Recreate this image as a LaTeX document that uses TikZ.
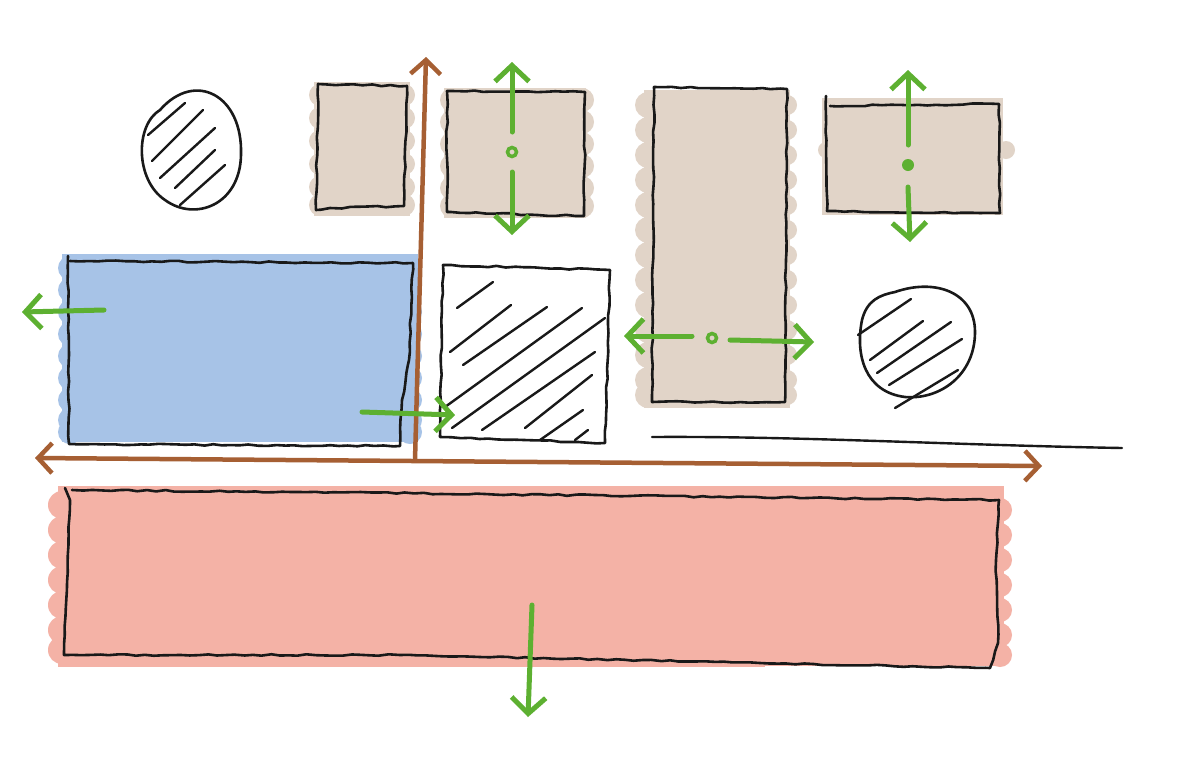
\documentclass[tikz,border=0pt]{standalone}
\usetikzlibrary{arrows.meta,decorations.pathmorphing}
\definecolor{tan}{HTML}{E1D4C8}
\definecolor{bluef}{HTML}{A7C3E7}
\definecolor{pinkf}{HTML}{F4B2A6}
\definecolor{brownl}{HTML}{A65F33}
\definecolor{greenl}{HTML}{5DB031}
\tikzset{
  edge/.style={draw=black!90, line width=2.6pt, line join=round, line cap=round,
    decorate, decoration={random steps, segment length=9pt, amplitude=0.8pt}},
  hatch/.style={black!90, line width=2.4pt, line cap=round},
  axis/.style={brownl, line width=4.5pt, line cap=round, -{Straight Barb[length=14pt,width=30pt,line width=4.5pt]}},
  axis2/.style={brownl, line width=4.5pt, line cap=round, {Straight Barb[length=14pt,width=30pt,line width=4.5pt]}-{Straight Barb[length=14pt,width=30pt,line width=4.5pt]}},
  move/.style={greenl, line width=5pt, line cap=round, -{Straight Barb[length=16pt,width=34pt,line width=5pt]}},
  pivot/.style={greenl, line width=3.5pt},
}
\begin{document}
\begin{tikzpicture}[x=1pt,y=-1pt]
\useasboundingbox (0,0) rectangle (1188,777);
\fill[white] (0,0) rectangle (1188,777);

% ---------- fills ----------
% tan 1
\fill[tan] (314,82) rectangle (410,216);
\foreach \y in {95,118,141,164,187,205} {\fill[tan] (320,\y) circle (11); \fill[tan] (404,\y) circle (11);}
% tan 2
\fill[tan] (444,88) rectangle (586,218);
\foreach \y in {100,122,144,166,188,206} {\fill[tan] (452,\y) circle (12); \fill[tan] (582,\y) circle (12);}
% tan 3
\fill[tan] (644,90) rectangle (790,408);
\foreach \y in {105,130,155,180,205,230,255,280,305,330,355,380,395} {\fill[tan] (648,\y) circle (13); \fill[tan] (787,\y) circle (10);}
% tan 4
\fill[tan] (822,98) rectangle (1003,215);
\fill[tan] (1000,142) rectangle (1008,158);
\fill[tan] (1006,150) circle (9);
\fill[tan] (826,150) circle (8);
% blue
\fill[bluef] (62,254) rectangle (418,442);
\foreach \y in {268,290,312,334,356,378,400,420,432} {\fill[bluef] (70,\y) circle (12); \fill[bluef] (410,\y) circle (12);}
% pink
\fill[pinkf] (58,486) rectangle (1004,666);
\fill[pinkf] (58,655) rectangle (765,667);
\foreach \y in {505,530,555,580,605,630,650} {\fill[pinkf] (62,\y) circle (14);}
\foreach \y in {510,535,560,585,610,635,655} {\fill[pinkf] (1000,\y) circle (12);}

% ---------- outlines ----------
\draw[edge] (318,84) -- (407,86) -- (404,206) -- (330,208) -- (316,210) -- cycle;
\draw[edge] (447,91) -- (585,92) -- (584,216) -- (470,213) -- (447,212) -- cycle;
\draw[edge] (654,87) -- (787,89) -- (785,402) -- (652,402) -- cycle;
\draw[edge] (826,96) -- (827,211) -- (1000,213) -- (999,104) -- (830,106);
\draw[edge] (68,256) -- (69,444) -- (400,446) -- (402,400) -- (409,360) -- (413,263) -- (70,261);
\draw[edge] (443,265) -- (610,270) -- (605,443) -- (440,437) -- cycle;
\draw[edge] (65,488) -- (70,500) -- (64,655) -- (400,655) -- (990,668) -- (998,643) -- (996,560) -- (999,500) -- (300,492) -- (72,490);

% blobs
\draw[black!90, line width=2.6pt] (160,110) .. controls (195,70) and (243,95) .. (241,155)
  .. controls (240,205) and (195,222) .. (165,200)
  .. controls (135,180) and (135,125) .. (160,110);
\draw[black!90, line width=2.6pt] (895,292) .. controls (935,278) and (975,292) .. (975,332)
  .. controls (975,375) and (940,400) .. (905,397)
  .. controls (865,392) and (855,355) .. (862,320)
  .. controls (867,300) and (880,295) .. (895,292);

% hatching
\draw[hatch] (148,135) -- (185,103);
\draw[hatch] (152,161) -- (203,110);
\draw[hatch] (160,178) -- (215,128);
\draw[hatch] (175,188) -- (215,150);
\draw[hatch] (180,205) -- (225,165);

\draw[hatch] (858,335) -- (911,299);
\draw[hatch] (870,360) -- (923,321);
\draw[hatch] (877,373) -- (951,322);
\draw[hatch] (889,385) -- (962,339);
\draw[hatch] (895,408) -- (958,370);

\draw[hatch] (457,308) -- (493,282);
\draw[hatch] (450,352) -- (511,305);
\draw[hatch] (463,365) -- (547,307);
\draw[hatch] (445,407) -- (582,308);
\draw[hatch] (452,428) -- (605,318);
\draw[hatch] (482,430) -- (595,352);
\draw[hatch] (525,428) -- (592,375);
\draw[hatch] (540,440) -- (583,410);
\draw[hatch] (575,440) -- (588,430);

% base line
\draw[black!90, line width=2.4pt, line cap=round] (652,437) .. controls (800,436) and (950,445) .. (1122,448);

% ---------- axes ----------
\coordinate (vb) at (415,460); \coordinate (vt) at (426,57);
\coordinate (hl) at (35,458); \coordinate (hr) at (1042,466);
\draw[axis] (vb) -- (vt);
\draw[axis2] (hl) -- (hr);

% ---------- green movement arrows ----------
\coordinate (p2) at (512,152);
\coordinate (a2u) at (512,62); \coordinate (a2d) at (512,235);
\draw[pivot] (p2) circle (4.5);
\draw[move] (512,132) -- (a2u);
\draw[move] (512,172) -- (a2d);

\coordinate (p3) at (712,338);
\coordinate (a3l) at (624,336); \coordinate (a3r) at (814,342);
\draw[pivot] (p3) circle (4.5);
\draw[move] (692,336) -- (a3l);
\draw[move] (730,340) -- (a3r);

\coordinate (p4) at (908,165);
\coordinate (a4u) at (908,70); \coordinate (a4d) at (910,242);
\fill[greenl] (p4) circle (6);
\draw[move] (908,145) -- (a4u);
\draw[move] (908,187) -- (a4d);

\coordinate (b1) at (104,310); \coordinate (b2) at (22,312);
\draw[move] (b1) -- (b2);
\coordinate (c1) at (362,412); \coordinate (c2) at (455,415);
\draw[move] (c1) -- (c2);
\coordinate (d1) at (532,605); \coordinate (d2) at (528,717);
\draw[move] (d1) -- (d2);
\end{tikzpicture}
\end{document}
